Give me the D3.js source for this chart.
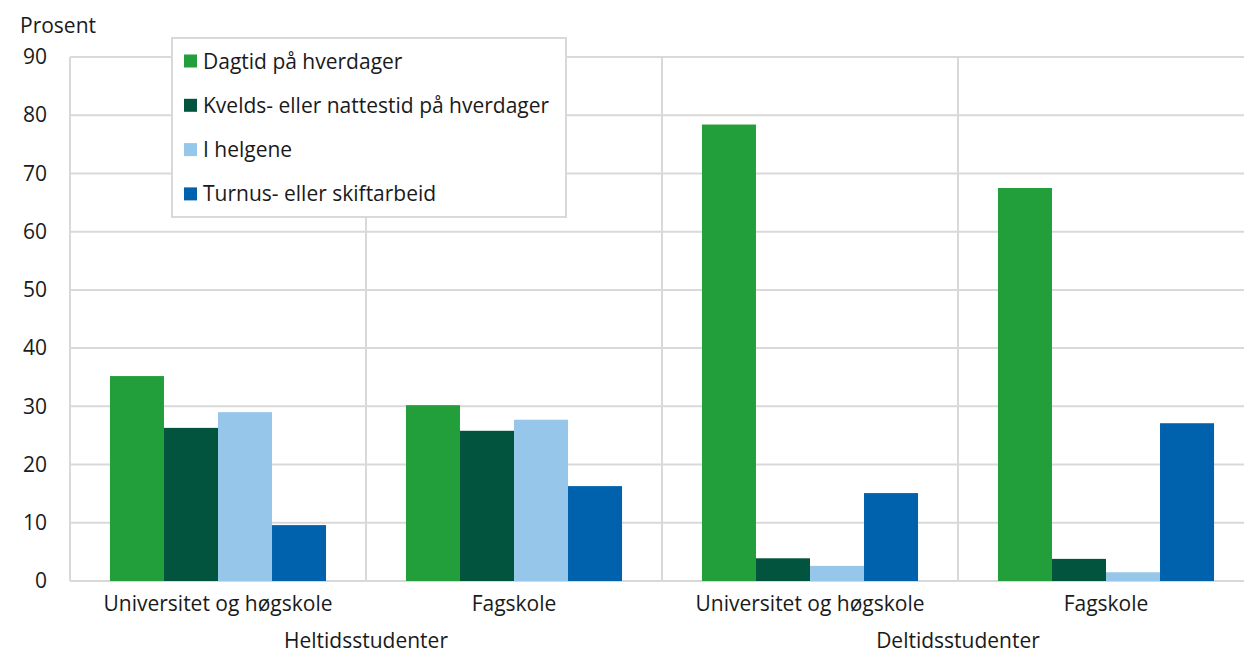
<!DOCTYPE html>
<html><head><meta charset="utf-8">
<script src="https://cdn.jsdelivr.net/npm/d3@7"></script>
<style>
body{margin:0;background:#fff;}
text{font-family:"Open Sans","Noto Sans",sans-serif;fill:#1a1a1a;}
</style></head>
<body><svg id="c" width="1244" height="654"></svg>
<script>
const categories = ["Universitet og høgskole","Fagskole","Universitet og høgskole","Fagskole"];
const groups = [{name:"Heltidsstudenter", span:[0,1]},{name:"Deltidsstudenter", span:[2,3]}];
const seriesNames = ["Dagtid på hverdager","Kvelds- eller nattestid på hverdager","I helgene","Turnus- eller skiftarbeid"];
const dagtid = [35.2, 30.2, 78.4, 67.5];
const kveld = [26.3, 25.8, 3.9, 3.8];
const helg = [29.0, 27.7, 2.6, 1.5];
const turnus = [9.6, 16.3, 15.1, 27.1];
const colors = ["#229f3a","#03543f","#96c6ea","#0062ad"];
const yTicks = [0,10,20,30,40,50,60,70,80,90];

(function(){
const seriesValues = [dagtid, kveld, helg, turnus];
const svg = d3.select("#c");
const pLeft = 70, pRight = 1254, pTop = 57, pBottom = 581;
const fs = "21px";

const x0 = d3.scaleBand().domain(d3.range(categories.length)).range([pLeft, pRight]).paddingInner(0).paddingOuter(0);
const x1 = d3.scaleBand().domain(d3.range(seriesNames.length)).range([0, x0.bandwidth()]).paddingInner(0).paddingOuter(0.74);
const y = d3.scaleLinear().domain([0,90]).range([pBottom, pTop]);

const grid = "#d9d9d9";
svg.append("g").selectAll("line").data(yTicks).join("line")
  .attr("x1", pLeft).attr("x2", pRight).attr("y1", d=>y(d)).attr("y2", d=>y(d))
  .attr("stroke", grid).attr("stroke-width", 2);
const seps = d3.range(categories.length+1).map(i => i < categories.length ? x0(i) : pRight);
svg.append("g").selectAll("line").data(seps).join("line")
  .attr("x1", d=>d).attr("x2", d=>d).attr("y1", pTop).attr("y2", pBottom)
  .attr("stroke", grid).attr("stroke-width", 2);

const yAxis = d3.axisLeft(y).tickValues(yTicks).tickSize(0).tickPadding(0);
const ya = svg.append("g").attr("transform", `translate(47,0)`).call(yAxis);
ya.select(".domain").remove();
ya.selectAll("text").style("font-size",fs).attr("fill","#1a1a1a").style("font-family",'"Open Sans", sans-serif');

svg.append("text").attr("x", 20).attr("y", 33).style("font-size",fs).text("Prosent");

const gBars = svg.append("g");
categories.forEach((c, ci) => {
  seriesValues.forEach((vals, si) => {
    gBars.append("rect")
      .attr("x", x0(ci) + x1(si))
      .attr("y", y(vals[ci]))
      .attr("width", x1.bandwidth())
      .attr("height", y(0) - y(vals[ci]))
      .attr("fill", colors[si]);
  });
});

svg.append("g").selectAll("text").data(categories).join("text")
  .attr("x", (d,i)=> x0(i) + x0.bandwidth()/2).attr("y", 611)
  .attr("text-anchor","middle").style("font-size",fs).text(d=>d);
svg.append("g").selectAll("text").data(groups).join("text")
  .attr("x", d => (x0(d.span[0]) + x0(d.span[1]) + x0.bandwidth())/2).attr("y", 648)
  .attr("text-anchor","middle").style("font-size",fs).text(d=>d.name);

const lg = svg.append("g");
lg.append("rect").attr("x",172).attr("y",38).attr("width",394).attr("height",179)
  .attr("fill","#fff").attr("stroke",grid).attr("stroke-width",2);
seriesNames.forEach((n,i)=>{
  const cy = 61 + i*44.3;
  lg.append("rect").attr("x",184).attr("y",cy-6.5).attr("width",13).attr("height",13).attr("fill",colors[i]);
  lg.append("text").attr("x",203).attr("y",cy+7.5).style("font-size",fs).text(n);
});
})();
</script></body></html>
